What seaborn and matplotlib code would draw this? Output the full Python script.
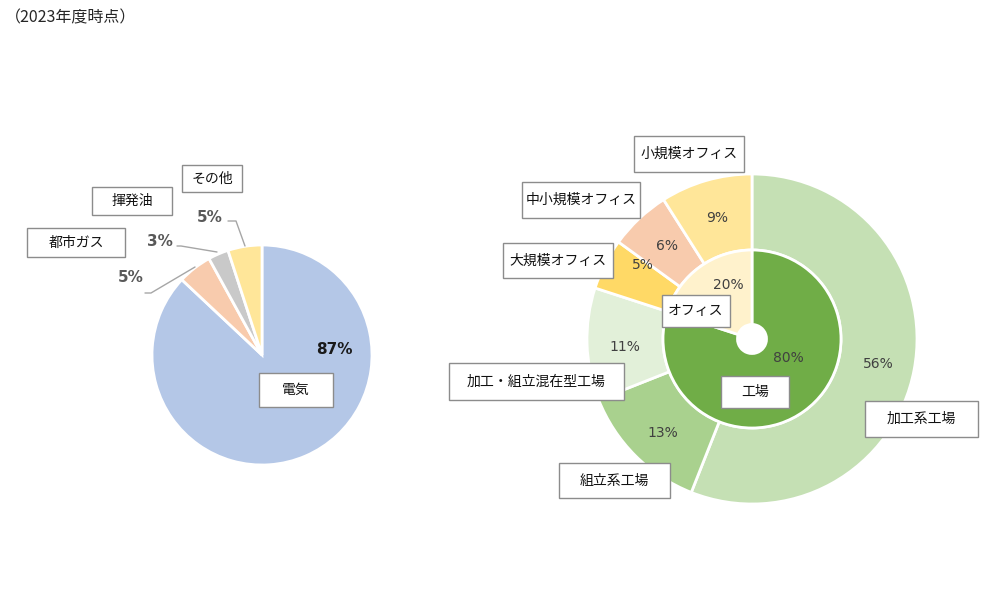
import matplotlib
matplotlib.use("Agg")
import matplotlib.pyplot as plt
from matplotlib.patches import Rectangle
import seaborn as sns

# ---------------- data ----------------
title_text = "（2023年度時点）"

energy_labels = ["電気", "都市ガス", "揮発油", "その他"]
energy_values = [87, 5, 3, 5]
energy_colors = ["#B4C7E7", "#F8CBAD", "#C9C9C9", "#FFE699"]

inner_labels = ["工場", "オフィス"]
inner_values = [80, 20]
inner_colors = ["#70AD47", "#FFF2CC"]

outer_labels = ["加工系工場", "組立系工場", "加工・組立混在型工場",
                "大規模オフィス", "中小規模オフィス", "小規模オフィス"]
outer_values = [56, 13, 11, 5, 6, 9]
outer_colors = ["#C5E0B4", "#A9D18E", "#E2F0D9", "#FFD966", "#F8CBAD", "#FFE699"]

# ---------------- style ----------------
sns.set_theme(style="white")
plt.rcParams["font.family"] = ["Noto Sans CJK JP", "DejaVu Sans"]

W, H = 1000, 610
fig = plt.figure(figsize=(W / 100, H / 100), dpi=100)
ax = fig.add_axes([0, 0, 1, 1])


def Y(y):
    return H - y


# ---------------- left pie ----------------
pie_c = (262, 355)
pie_r = 110
ax.pie(energy_values, colors=sns.color_palette(energy_colors), startangle=90,
       counterclock=False, radius=pie_r, center=(pie_c[0], Y(pie_c[1])),
       wedgeprops=dict(edgecolor="white", linewidth=2))

# ---------------- right donut ----------------
don_c = (752, 339)
r_out, r_mid, r_hole = 165, 89, 14.5
ax.pie(outer_values, colors=sns.color_palette(outer_colors), startangle=90,
       counterclock=False, radius=r_out, center=(don_c[0], Y(don_c[1])),
       wedgeprops=dict(width=r_out - r_mid, edgecolor="white", linewidth=2))
ax.pie(inner_values, colors=sns.color_palette(inner_colors), startangle=90,
       counterclock=False, radius=r_mid, center=(don_c[0], Y(don_c[1])),
       wedgeprops=dict(width=r_mid - r_hole, edgecolor="white", linewidth=2))

ax.set_xlim(0, W)
ax.set_ylim(0, H)
ax.set_aspect("equal")
ax.axis("off")

# ---------------- text helpers ----------------
BOX_EDGE = "#8C8C8C"
LABEL_COLOR = "#111111"
PCT_COLOR = "#404040"


def box_label(text, x0, y0, x1, y1, size=10):
    ax.add_patch(Rectangle((x0, Y(y1)), x1 - x0, y1 - y0, facecolor="white",
                           edgecolor=BOX_EDGE, linewidth=1.0, zorder=5))
    ax.text((x0 + x1) / 2, Y((y0 + y1) / 2), text, ha="center", va="center",
            fontsize=size, color=LABEL_COLOR, zorder=6)


def pct(value, x, y, bold=False, size=10, color=PCT_COLOR):
    ax.text(x, Y(y), f"{value}%", ha="center", va="center", fontsize=size,
            fontweight="bold" if bold else "normal", color=color,
            family=["DejaVu Sans"], zorder=6)


# title
ax.text(5, Y(18), title_text, ha="left", va="center", fontsize=11.5, color="#262626")

# left pie labels (layout)
left_boxes = [(259, 373, 333, 407), (27, 228, 125, 257), (92, 187, 172, 215), (182, 165, 242, 192)]
left_pct_pos = [(334, 349), (131, 277), (160, 241), (210, 217)]
for lab, b in zip(energy_labels, left_boxes):
    box_label(lab, *b)
for v, (x, y) in zip(energy_values, left_pct_pos):
    pct(v, x, y, bold=True, size=11, color="#1A1A1A" if v == energy_values[0] else "#595959")

leaders = [
    [(145, 293), (151, 293), (195, 267)],
    [(177, 246), (181, 246), (217, 252)],
    [(228, 221), (236, 221), (245, 246)],
]
for pts in leaders:
    ax.plot([p[0] for p in pts], [Y(p[1]) for p in pts], color="#A6A6A6", lw=1.0, zorder=4)

# donut labels (layout)
inner_boxes = [(721, 376, 789, 408), (662, 295, 730, 327)]
inner_pct_pos = [(788, 358), (728, 285)]
outer_boxes = [(865, 401, 978, 437), (559, 463, 670, 498), (449, 363, 624, 400),
               (503, 243, 613, 278), (522, 182, 640, 218), (634, 136, 744, 172)]
outer_pct_pos = [(878, 364), (663, 433), (625, 347), (643, 265), (667, 246), (717, 218)]

for v, (x, y) in zip(outer_values, outer_pct_pos):
    pct(v, x, y, size=10)
for v, (x, y) in zip(inner_values, inner_pct_pos):
    pct(v, x, y, size=10)
for lab, b in zip(outer_labels, outer_boxes):
    box_label(lab, *b)
for lab, b in zip(inner_labels, inner_boxes):
    box_label(lab, *b)

fig.savefig("out.png", dpi=100, facecolor="white")
